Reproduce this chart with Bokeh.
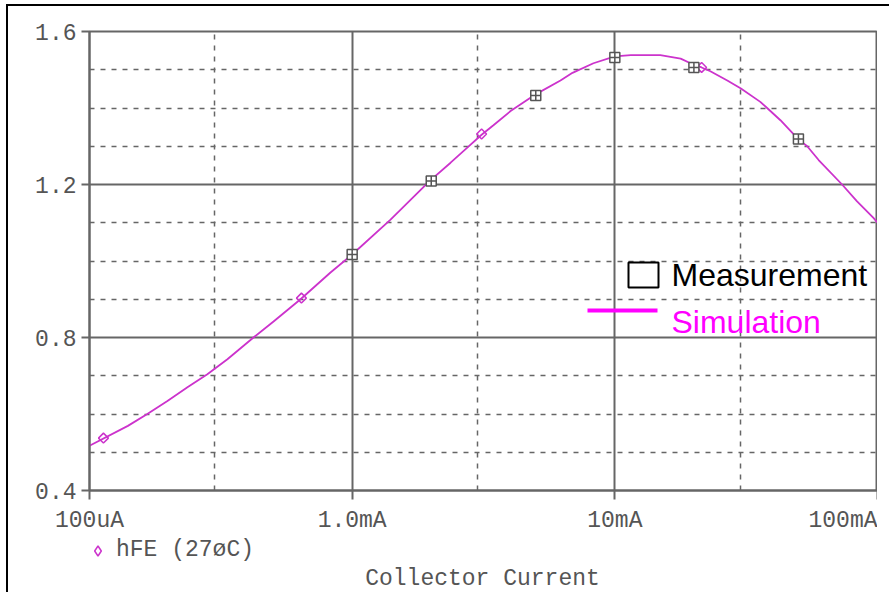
import math
from bokeh.plotting import figure
from bokeh.layouts import column
from bokeh.models import (FixedTicker, Label, BoxAnnotation, Legend, LegendItem,
                          Range1d)
from bokeh.embed import file_html
from bokeh.resources import INLINE

# ---------------- data ----------------
x_ticks = [1e-4, 1e-3, 1e-2, 1e-1]
x_tick_labels = ["100uA", "1.0mA", "10mA", "100mA"]
x_minor = [3e-4, 3e-3, 3e-2]
y_ticks = [0.4, 0.8, 1.2, 1.6]
y_tick_labels = ["0.4", "0.8", "1.2", "1.6"]
y_minor = [0.5, 0.6, 0.7, 0.9, 1.0, 1.1, 1.3, 1.4, 1.5]

sim_current = [1.0e-4, 1.40e-4, 1.66e-4, 1.98e-4, 2.36e-4, 2.81e-4, 3.35e-4, 4.21e-4,
               5.02e-4, 6.36e-4, 8.27e-4, 1.0e-3, 1.40e-3, 1.97e-3, 2.37e-3, 2.75e-3,
               3.11e-3, 3.45e-3, 4.01e-3, 5.03e-3, 6.21e-3, 6.90e-3, 8.29e-3, 1.0e-2,
               1.15e-2, 1.49e-2, 1.78e-2, 1.97e-2, 2.14e-2, 2.31e-2, 2.68e-2, 3.02e-2,
               3.58e-2, 3.80e-2, 4.27e-2, 5.0e-2, 5.40e-2, 5.97e-2, 7.33e-2, 8.36e-2,
               9.67e-2, 1.0e-1]
sim_hfe = [0.517, 0.569, 0.600, 0.634, 0.670, 0.704, 0.743, 0.800,
           0.842, 0.900, 0.970, 1.017, 1.108, 1.209, 1.257, 1.297,
           1.330, 1.355, 1.392, 1.437, 1.472, 1.492, 1.517, 1.535,
           1.538, 1.538, 1.529, 1.515, 1.506, 1.496, 1.472, 1.451,
           1.416, 1.400, 1.368, 1.318, 1.300, 1.264, 1.200, 1.156,
           1.112, 1.100]

sim_mark_current = [1.13e-4, 6.41e-4, 3.11e-3, 2.14e-2]
sim_mark_hfe = [0.537, 0.903, 1.332, 1.506]

meas_current = [1e-3, 2e-3, 5e-3, 1e-2, 2e-2, 5e-2]
meas_hfe = [1.017, 1.209, 1.433, 1.532, 1.506, 1.319]

trace_name = "hFE (27øC)"
x_title = "Collector Current"
legend_labels = ["Measurement", "Simulation"]

# ---------------- styling ----------------
GRAY = "#666666"
TXT = "#555555"
CURVE = "#CC33CC"
MONO = "Liberation Mono"
FS = "23px"

p = figure(width=869, height=530, x_axis_type="log",
           x_range=Range1d(x_ticks[0], x_ticks[-1]),
           y_range=Range1d(y_ticks[0], y_ticks[-1]),
           output_backend="svg", toolbar_location=None,
           min_border_left=81, min_border_right=0, min_border_top=25,
           min_border_bottom=45,
           background_fill_color="white", border_fill_color="white")

p.outline_line_color = GRAY
p.outline_line_width = 2

p.xaxis.ticker = FixedTicker(ticks=x_ticks, minor_ticks=x_minor)
p.yaxis.ticker = FixedTicker(ticks=y_ticks, minor_ticks=y_minor)

p.xaxis.major_label_overrides = {t: l for t, l in zip(x_ticks, x_tick_labels)}
p.yaxis.major_label_overrides = {t: l for t, l in zip(y_ticks, y_tick_labels)}

for ax in (p.xaxis[0], p.yaxis[0]):
    ax.axis_line_color = GRAY
    ax.axis_line_width = 2
    ax.major_tick_line_color = GRAY
    ax.major_tick_line_width = 2
    ax.major_tick_in = 0
    ax.minor_tick_line_color = None
    ax.major_label_text_font = MONO
    ax.major_label_text_font_size = FS
    ax.major_label_text_color = TXT

p.xaxis.major_tick_out = 9
p.xaxis.major_label_standoff = 8
p.yaxis.major_tick_out = 8
p.yaxis.major_label_standoff = 5

for g in (p.xgrid[0], p.ygrid[0]):
    g.grid_line_color = GRAY
    g.grid_line_width = 2
    g.minor_grid_line_color = GRAY
    g.minor_grid_line_width = 1.5
    g.minor_grid_line_dash = "5 6"

# curve
p.line(sim_current, sim_hfe, line_color=CURVE, line_width=1.8)
p.scatter(sim_mark_current, sim_mark_hfe, marker="square", angle=math.pi / 4,
          size=7, fill_color=None, line_color=CURVE, line_width=1.5)
p.scatter(meas_current, meas_hfe, marker="square_cross", size=10,
          fill_color="white", line_color="#555555", line_width=1.5)

# in-plot legend (Measurement / Simulation)
p.add_layout(BoxAnnotation(left=539, right=569, bottom=203, top=228,
                           left_units="screen", right_units="screen",
                           bottom_units="screen", top_units="screen",
                           fill_color=None, line_color="black", line_alpha=1,
                           line_width=2))
p.add_layout(BoxAnnotation(left=498, right=568, bottom=178, top=182,
                           left_units="screen", right_units="screen",
                           bottom_units="screen", top_units="screen",
                           fill_color="#FF00FF", fill_alpha=1, line_color=None))
p.add_layout(Label(x=582, y=216, x_units="screen", y_units="screen",
                   text=legend_labels[0], text_baseline="alphabetic",
                   text_font="Liberation Sans", text_font_size="32px",
                   text_color="black"))
p.add_layout(Label(x=582, y=169, x_units="screen", y_units="screen",
                   text=legend_labels[1], text_baseline="alphabetic",
                   text_font="Liberation Sans", text_font_size="32px",
                   text_color="#FF00FF"))

# ---------------- bottom strip: trace legend + x title ----------------
p2 = figure(width=869, height=56, x_axis_type="log", x_range=p.x_range,
            y_range=Range1d(10, 11),
            x_axis_location=None, y_axis_location=None,
            output_backend="svg", toolbar_location=None,
            min_border_left=81, min_border_right=0, min_border_top=0,
            min_border_bottom=0,
            background_fill_color="white", border_fill_color="white")
p2.outline_line_color = None
p2.grid.visible = False

# same marker series, kept out of this strip's view; it only feeds the legend key
diam_key = p2.scatter(sim_mark_current, sim_mark_hfe, marker="diamond",
                      size=10, fill_color=None,
                      line_color=CURVE, line_width=1.5)
leg = Legend(items=[LegendItem(label=trace_name, renderers=[diam_key], index=0)],
             location=(-4, 29), orientation="vertical",
             glyph_width=25, glyph_height=25, label_standoff=6,
             padding=0, margin=0, spacing=0,
             border_line_color=None, background_fill_alpha=0,
             label_text_font=MONO, label_text_font_size=FS,
             label_text_color=TXT)
p2.add_layout(leg, "center")

p2.add_layout(Label(x=393, y=14, x_units="screen", y_units="screen",
                    text=x_title, text_align="center", text_baseline="middle",
                    text_font=MONO, text_font_size=FS, text_color=TXT))

layout = column(p, p2, spacing=0,
                styles={"border-top": "2px solid black", "border-left": "2px solid black",
                        "margin-top": "4px", "margin-left": "6px",
                        "padding-right": "12px"})

open("out.html", "w").write(file_html(layout, INLINE))
